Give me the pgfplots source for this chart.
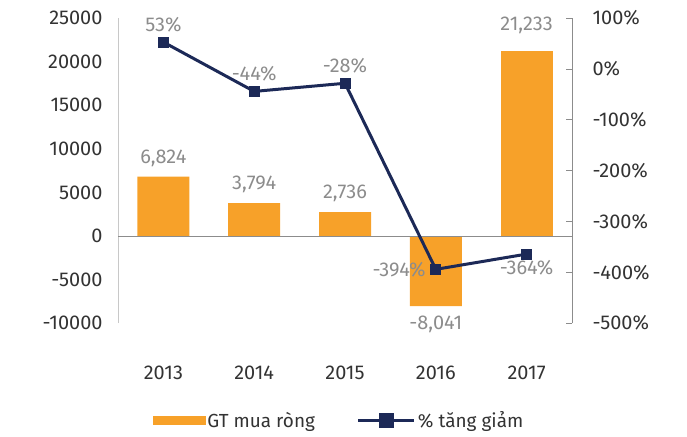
\documentclass[border=0pt]{standalone}
\usepackage{fontspec}
\setmainfont{Fira Sans}
\usepackage{pgfplots}
\pgfplotsset{compat=1.18}
\definecolor{barorange}{HTML}{F7A129}
\definecolor{navy}{HTML}{1C2957}
\definecolor{labelgray}{HTML}{8C8C8C}
\definecolor{tickcol}{HTML}{333333}
\definecolor{leftgray}{HTML}{C8C8C8}
\definecolor{rightgray}{HTML}{8C8C8C}
\begin{document}
\begin{tikzpicture}[font=\fontsize{20}{23}\selectfont]
\pgfplotsset{every axis/.append style={font=\fontsize{20}{23}\selectfont},
  every tick label/.append style={font=\fontsize{20}{23}\selectfont}}
\begin{axis}[name=ax, scale only axis, width=454bp, height=305bp,
  xmin=-0.5, xmax=4.5, ymin=-10000, ymax=25000,
  ytick={-10000,-5000,...,25000}, scaled y ticks=false,
  xtick={0,...,4}, xticklabels={2013,2014,2015,2016,2017},
  axis y line*=left, axis x line*=bottom,
  x axis line style={draw=none},
  y axis line style={draw=leftgray, line width=1pt},
  xtick style={draw=none}, ytick style={draw=none},
  xticklabel style={yshift=-35bp, text=tickcol},
  yticklabel style={text=tickcol, xshift=-12bp, /pgf/number format/1000 sep={}},
  /pgf/number format/assume math mode=true,
  ybar, bar width=52bp, bar shift=0pt,
  nodes near coords,
  every node near coord/.append style={text=labelgray, inner sep=10bp,
     /pgf/number format/1000 sep={,}, /pgf/number format/fixed},
  clip=false,
]
\addplot[fill=barorange, draw=none] coordinates {(0,6824) (1,3794) (2,2736) (3,-8041)};
\addplot[fill=barorange, draw=none, every node near coord/.append style={inner sep=17bp}] coordinates {(4,21233)};
\draw[rightgray, line width=1pt] (axis cs:-0.5,0) -- (axis cs:4.5,0);
\end{axis}
\begin{axis}[scale only axis, width=454bp, height=305bp,
  xmin=-0.5, xmax=4.5, ymin=-500, ymax=100,
  ytick={-500,-400,...,100},
  axis y line*=right, axis x line=none,
  y axis line style={draw=rightgray, line width=1pt},
  ytick style={draw=rightgray, line width=1pt},
  tick align=inside, major tick length=6bp,
  /pgf/number format/assume math mode=true,
  yticklabel={\pgfmathprintnumber{\tick}\%},
  yticklabel style={text=tickcol, xshift=17bp},
  clip=false,
  legend style={at={(0.487,-0.318)}, anchor=center, draw=none, fill=none,
    legend columns=2, text=tickcol, font=\fontsize{19}{22}\selectfont,
    /tikz/every even column/.append style={column sep=40bp}},
]
\addlegendimage{legend image code/.code={\fill[barorange] (0bp,-4bp) rectangle (52bp,4bp);}}
\addlegendentry{GT mua ròng}
\addplot[navy, line width=3bp, mark=square*, mark size=5bp,
  mark options={line width=1pt},
  legend image code/.code={\draw[navy, line width=3bp] (0bp,0bp) -- (56bp,0bp);
     \fill[navy] (22bp,-6bp) rectangle (34bp,6bp);},
] coordinates {(0,53) (1,-44) (2,-28) (3,-394) (4,-364)};
\addlegendentry{\% tăng giảm}
\pgfplotsset{pctlab/.style={draw=none, mark=none, forget plot,
  nodes near coords={\pgfmathprintnumber{\pgfplotspointmeta}\%},
  every node near coord/.append style={text=labelgray, anchor=#1, inner sep=10bp}}}
\addplot[pctlab=south] coordinates {(0,53) (1,-44) (2,-28)};
\addplot[pctlab=east, every node near coord/.append style={inner sep=10bp}] coordinates {(3,-394)};
\addplot[pctlab=north, every node near coord/.append style={inner sep=6bp}] coordinates {(4,-364)};
\end{axis}
\path ([shift={(-118bp,-113bp)}]ax.south west) rectangle ([shift={(115bp,18bp)}]ax.north east);
\end{tikzpicture}
\end{document}
